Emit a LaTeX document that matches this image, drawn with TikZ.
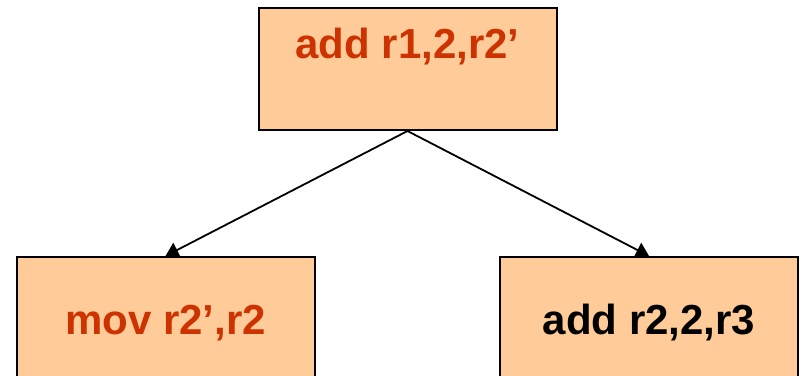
\documentclass[tikz,border=0pt]{standalone}
\usepackage{fontspec}
\setmainfont{Liberation Sans}
\usetikzlibrary{arrows.meta}
\definecolor{boxfill}{HTML}{FFCC99}
\definecolor{instr}{HTML}{CC3300}
\tikzset{
  instrbox/.style={draw=black, fill=boxfill, line width=2pt, inner sep=0pt,
    minimum width=298pt, font=\bfseries\fontsize{42}{42}\selectfont, align=center},
  link/.style={line width=1.8pt, -{Triangle[length=13pt,width=16pt]}}
}
\begin{document}
\begin{tikzpicture}[x=1pt,y=-1pt]
  \clip (0,0) rectangle (802,375);
  \fill[white] (0,0) rectangle (802,375);
  % root instruction
  \node[instrbox, text=instr, text height=50pt, text depth=72pt, anchor=north]
    (top) at (407.5,7) {add r1,2,r2’};
  % children
  \node[instrbox, text=instr, text height=77pt, text depth=80pt, anchor=north]
    (left) at (165.5,256) {mov r2’,r2};
  \node[instrbox, text=black, text height=77pt, text depth=80pt, anchor=north]
    (right) at (649,256) {add r2,2,r3};
  \draw[link] (top.south) -- (left.north);
  \draw[link] (top.south) -- (right.north);
\end{tikzpicture}
\end{document}
